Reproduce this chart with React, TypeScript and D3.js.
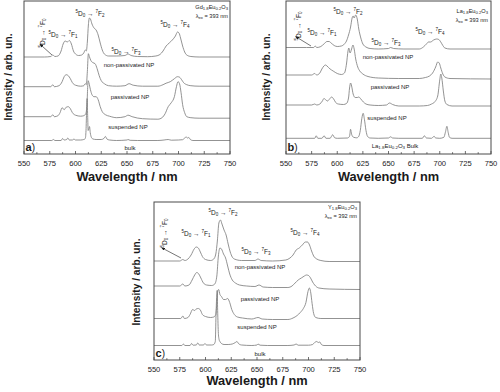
import React from "react";
import * as d3 from "d3";

type Pt = [number, number];

const FONT = "'Liberation Sans', Arial, Helvetica, sans-serif";

const WL_TICKS = [550, 575, 600, 625, 650, 675, 700, 725, 750];
const WL_MINOR = [562.5, 587.5, 612.5, 637.5, 662.5, 687.5, 712.5, 737.5];

const SAMPLE_LABELS = ["non-passivated NP", "passivated NP", "suspended NP"];

// ---------- Panel a : Gd1.8Eu0.2O3 ----------
const aOffsets = [97, 67.3, 37.3, 13.5];
const aNonPassivated: Pt[] = [
  [550, 0], [570, 0], [576, 0.5], [578, 2], [580, 0.5], [583, 1], [586, 6], [588, 13], [590, 16], [592, 15],
  [594, 16.5], [596, 13], [598, 6], [600, 3], [603, 1.5], [606, 2], [608, 4], [609.5, 7], [610.5, 6], [611.5, 15],
  [612.5, 32], [613.5, 39], [614.5, 38], [616, 33], [618, 29], [620, 27], [622, 22], [624, 14], [626, 7], [628, 3],
  [632, 1], [640, 1], [648, 1.5], [651, 3], [654, 1.5], [660, 0.5], [670, 0.3], [678, 1], [682, 2.5], [685, 6],
  [688, 11], [691, 14], [694, 17], [697, 21], [699, 25], [700.5, 24], [702, 19], [704, 11], [706, 5], [708, 2],
  [712, 0.5], [720, 0], [750, 0],
];
const aPassivated: Pt[] = [
  [550, 0], [576, 0], [578, 2], [579.5, 0], [584, 1], [587, 5], [589, 10], [591, 12], [593, 11], [595, 8],
  [597, 4], [600, 1.5], [605, 0.5], [608, 1], [609.5, 3], [610.5, 2], [611.5, 15], [612.5, 33], [613.5, 30],
  [615, 26], [617, 24], [619, 23], [621, 18], [623, 11], [625, 6], [628, 3], [632, 1], [640, 0.5], [648, 1],
  [652, 3], [656, 1.5], [665, 0.5], [680, 0.5], [685, 2], [688, 3.5], [692, 5], [696, 8], [699, 10], [701, 9.5],
  [703, 7], [705, 4], [708, 2], [712, 1], [720, 0.5], [750, 0.5],
];
const aSuspended: Pt[] = [
  [550, 0], [576, 0], [578, 2], [579.5, 0], [583, 1], [585, 4], [587, 9], [589, 7], [591, 9.5], [593, 10],
  [595, 8], [597, 4], [600, 1.5], [605, 0.5], [608, 1], [610, 3], [611, 10], [612.3, 36], [613, 34], [614.5, 27],
  [616, 22], [618, 20], [620, 20], [622, 17], [624, 10], [626, 5], [629, 2], [633, 0.5], [640, -1], [648, 0],
  [651, 1.5], [655, 0], [665, -2], [680, -2.5], [684, -1], [687, 3], [690, 10], [693, 14], [696, 20], [698, 30],
  [699.5, 35], [701, 33], [702.5, 24], [704, 12], [706, 4], [708, 0], [712, -1], [720, -1.5], [750, -1.5],
];
const aBulk: Pt[] = [
  [550, 0], [577, 0], [578.5, 1], [580, 0], [586, 0], [587.5, 2], [589, 0.5], [591.5, 1], [592.5, 2.5], [594, 0.5],
  [597, 0.5], [598.5, 1.5], [600, 0.5], [605, 0.5], [608, 1], [609.5, 2], [610.2, 10], [610.8, 30], [611.3, 42],
  [611.8, 25], [612.3, 10], [613, 12], [613.6, 14], [614.3, 8], [615.5, 3], [617, 1.5], [620, 1], [625, 1],
  [627.5, 2], [629, 4], [630.5, 1.5], [633, 0.5], [640, 0], [650, 0.5], [651, 1], [653, 0.2], [660, 0], [680, 0],
  [686, 0.5], [690, 1], [693, 0.3], [700, 0.5], [704, 0.8], [706, 2.5], [707.5, 3.5], [708.7, 2.5], [710, 3],
  [711.5, 1], [714, 0], [750, 0],
];

// ---------- Panel b : La1.8Eu0.2O3 ----------
const bOffsets = [105, 75, 48, 15.7];
const bNonPassivated: Pt[] = [
  [550, 1.5], [570, 1.5], [577, 1.5], [578.5, 3], [580, 1.5], [584, 2.5], [587, 5], [590, 7.5], [592, 7.5],
  [594, 6], [597, 3.5], [600, 2.5], [604, 3], [607, 5], [609, 8], [611, 14], [613, 22], [614.5, 31], [615.5, 33],
  [616.5, 31], [618, 34], [619.5, 30], [621, 20], [623, 11], [625, 5], [628, 2], [632, 0.5], [640, 0], [650, 0.5],
  [652, 1.5], [655, 0.5], [665, 0], [680, 0], [684, 2], [687, 5], [689, 7], [691, 7], [694, 9], [697, 10],
  [699, 9.5], [701, 7], [703, 3.5], [705, 1], [710, 0], [750, 0],
];
const bPassivated: Pt[] = [
  [550, 4], [575, 4], [578, 5.5], [580, 4], [583, 6], [585, 10], [587, 13], [588.5, 14], [590, 13], [593, 10],
  [596, 8], [600, 5.5], [604, 4.5], [607, 6], [609, 15], [610.5, 28], [611.3, 31], [612.5, 26], [614, 30],
  [615.3, 34], [616.5, 30], [618, 20], [620, 12], [622, 8], [625, 5], [630, 2.5], [640, 1], [660, 0.5], [680, 0.5],
  [686, 1.5], [690, 3], [693, 6], [696, 12], [698, 17], [699.5, 16], [701, 11], [703, 5], [705, 2], [710, 0.5],
  [750, 0],
];
const bSuspended: Pt[] = [
  [550, 1], [575, 1], [578, 2], [580, 1], [583, 2], [585.5, 5], [587, 7.5], [589, 6], [590.5, 5], [592.5, 7],
  [594.5, 9], [596.5, 7], [598.5, 3.5], [601, 2], [606, 1.5], [609, 2.5], [611, 8], [612, 18], [613, 23], [614, 20],
  [615.5, 12], [617.5, 8.5], [619.5, 8.5], [621, 9], [623, 7], [625.5, 4], [628, 2], [632, 1], [640, 0.5], [648, 1],
  [651, 3], [654, 1.5], [660, 0], [680, 0], [688, 0.5], [692, 2], [695, 4], [698, 10], [700, 26], [701, 32],
  [702, 28], [703.5, 15], [705, 5], [707, 1.5], [712, 0], [750, 0],
];
const bBulk: Pt[] = [
  [550, 0], [578, 0], [579.5, 2.5], [581, 0], [585, 0], [587.2, 2.5], [589, 0], [593, 0], [595.5, 3.5],
  [597.5, 0.5], [600, 0], [610, 0.3], [612, 2], [613, 9], [614, 4], [616, 1], [619, 0.5], [621, 2], [622.5, 8],
  [624, 20], [625.3, 25], [626.5, 19], [628, 8], [629.5, 2], [632, 0.3], [640, 0], [650, 0.3], [652, 1.5],
  [654, 0.3], [660, 0], [683, 0], [685, 2.5], [687, 0.3], [692, 0], [694.5, 2], [696, 0.3], [700, 0], [704, 1],
  [705.5, 6], [707, 12], [708.2, 6], [709.5, 1], [712, 0], [750, 0],
];

// ---------- Panel c : Y1.8Eu0.2O3 ----------
const cOffsets = [99, 74, 41.5, 14.5];
const cNonPassivated: Pt[] = [
  [550, 0], [575, 0], [578, 1.5], [580, 0.5], [583, 2], [586, 6], [589, 12], [591, 14], [593, 13], [595, 9],
  [597, 4.5], [600, 1.5], [605, 0.5], [608, 2], [610, 7], [611.5, 20], [613, 38], [614.5, 41], [616, 37],
  [618, 31], [620, 26], [622, 17], [624, 9], [626, 4], [628, 2], [635, 0.5], [648, 0.5], [651, 2], [654, 0.5],
  [665, 0], [678, 1], [682, 3], [685, 6], [688, 11], [691, 13], [694, 16], [697, 19], [699, 19], [701, 16],
  [703, 10], [705, 5], [708, 2], [712, 0.5], [720, -0.5], [750, -0.5],
];
const cPassivated: Pt[] = [
  [550, 0], [575, 0], [578, 2], [580, 0], [584, 1], [587, 6], [589.5, 11], [591.5, 13.5], [593.5, 12],
  [595.5, 8], [598, 3], [601, 1], [606, 0.5], [609, 2], [611, 10], [612.5, 30], [614, 38], [615.5, 37],
  [617.5, 32], [619.5, 28], [621.5, 20], [623.5, 12], [626, 6], [629, 3], [633, 1], [640, 0], [648, -0.5],
  [652, 1], [656, -1], [665, -1.5], [680, -1.5], [684, 0], [687, 3], [690, 6], [693, 8], [696, 10], [698, 11],
  [700, 10.5], [702, 8], [704, 4], [706, 1], [710, -2], [720, -3], [750, -3.5],
];
const cSuspended: Pt[] = [
  [550, 0], [576, 0], [578, 2.5], [579.5, 0], [583, 1], [585, 4], [587.5, 9], [589.5, 8], [591, 9.5], [593, 10],
  [595, 8.5], [597, 4], [600, 2], [605, 1], [608, 1.5], [610, 4], [611, 15], [612, 28], [612.8, 29], [614, 24],
  [615.5, 22], [617.5, 19], [619.5, 19], [621.5, 20], [623.5, 16], [625.5, 9], [628, 4], [631, 1.5], [636, 0.5],
  [645, -0.5], [651, 1], [655, -0.5], [665, -1], [680, -1], [685, 0.5], [689, 3], [692, 6], [695, 10],
  [697.5, 16], [699.5, 27], [700.8, 30.5], [702, 27], [703.5, 15], [705, 5], [707, 1], [712, 0], [750, 0],
];
const cBulk: Pt[] = [
  [550, 0], [577, 0], [578.5, 1.5], [580, 0], [585, 0], [586.5, 2], [588, 0.3], [591, 0.5], [592.5, 2.5],
  [594, 0.5], [598, 0.5], [599.5, 2], [601, 0.5], [606, 0.5], [608, 1], [609.5, 4], [610.2, 30], [610.8, 48],
  [611.3, 55], [611.8, 35], [612.5, 12], [613.2, 6], [614, 4], [615.5, 2], [618, 1], [622, 1], [626, 1.5],
  [629, 3], [630.5, 4], [632, 2], [635, 0.5], [645, 0], [650, 0.5], [651, 1.5], [653, 0.3], [660, 0], [680, 0],
  [686, 0.5], [688, 1.5], [690, 0.3], [700, 0.3], [704, 1], [706, 3], [708, 4], [709.5, 3], [711, 3.5],
  [712.5, 1], [715, 0], [750, 0],
];

// ---------- helpers ----------
const TXT = "#1a1a1a";
const LINE = "#808080";
const FRAME = "#4a4a4a";

function Transition({ x, y, n, anchor = "middle", rotate = 0 }: { x: number; y: number; n: string; anchor?: string; rotate?: number }) {
  const big = 6.5;
  const small = 4.5;
  return (
    <text
      x={0}
      y={0}
      transform={`translate(${x},${y}) rotate(${rotate})`}
      fontSize={big}
      textAnchor={anchor as any}
      fill={TXT}
      fontFamily={FONT}
    >
      <tspan fontSize={small} dy={-2.6}>5</tspan>
      <tspan dy={2.6}>D</tspan>
      <tspan fontSize={small} dy={1.4}>0</tspan>
      <tspan dy={-1.4}>{" \u2192 "}</tspan>
      <tspan fontSize={small} dy={-2.6}>7</tspan>
      <tspan dy={2.6}>F</tspan>
      <tspan fontSize={small} dy={1.4}>{n}</tspan>
    </text>
  );
}

function Compound({ x, y, parts }: { x: number; y: number; parts: [string, string][] }) {
  return (
    <text x={x} y={y} fontSize={5.6} textAnchor="end" fill={TXT} fontFamily={FONT}>
      {parts.map(([main, sub], i) => (
        <React.Fragment key={i}>
          <tspan dy={i === 0 ? 0 : -1.3}>{main}</tspan>
          <tspan fontSize={4.2} dy={1.3}>{sub}</tspan>
        </React.Fragment>
      ))}
    </text>
  );
}

function Lambda({ x, y, nm }: { x: number; y: number; nm: string }) {
  return (
    <text x={x} y={y} fontSize={5.6} textAnchor="end" fill={TXT} fontFamily={FONT}>
      <tspan>{"\u03bb"}</tspan>
      <tspan fontSize={4.2} dy={1.3}>ex</tspan>
      <tspan dy={-1.3}>{` = ${nm} nm`}</tspan>
    </text>
  );
}

type PanelProps = {
  left: number; right: number; top: number; bottom: number;
  series: Pt[][]; offsets: number[];
  letter: string;
  labels: { text: any; x: number; y: number }[];
  trans: { n: string; x: number; y: number }[];
  f0: { x: number; y: number; ax1: number; ay1: number; ax2: number; ay2: number };
  compound: [string, string][]; lambda: string; cx: number; cy: number;
  yTitle: { x: number; y: number };
  xTitleY: number; tickY: number;
};

function Panel(p: PanelProps) {
  const x = d3.scaleLinear().domain([550, 750]).range([p.left, p.right]);
  const h = p.bottom - p.top;
  const y = d3.scaleLinear().domain([0, h]).range([p.bottom, p.top]);
  const mid = (p.left + p.right) / 2;
  return (
    <g>
      {p.series.map((s, i) => {
        const line = d3
          .line<Pt>()
          .x((d) => x(d[0]))
          .y((d) => y(d[1] + p.offsets[i]))
          .curve(d3.curveMonotoneX);
        return <path key={i} d={line(s) || ""} fill="none" stroke={LINE} strokeWidth={0.85} />;
      })}
      <rect x={p.left} y={p.top} width={p.right - p.left} height={h} fill="none" stroke={FRAME} strokeWidth={1} />
      {WL_TICKS.map((t) => (
        <g key={t}>
          <line x1={x(t)} x2={x(t)} y1={p.bottom} y2={p.bottom - 3} stroke={FRAME} strokeWidth={0.8} />
          <text x={x(t)} y={p.tickY} fontSize={7.6} textAnchor="middle" fill={TXT} fontFamily={FONT}>
            {t}
          </text>
        </g>
      ))}
      {WL_MINOR.map((t) => (
        <line key={t} x1={x(t)} x2={x(t)} y1={p.bottom} y2={p.bottom - 1.8} stroke={FRAME} strokeWidth={0.8} />
      ))}
      <text x={mid} y={p.xTitleY} fontSize={12.8} fontWeight="bold" textAnchor="middle" fill={TXT} fontFamily={FONT}>
        Wavelength / nm
      </text>
      <text
        transform={`translate(${p.yTitle.x},${p.yTitle.y}) rotate(-90)`}
        fontSize={10.2}
        fontWeight="bold"
        textAnchor="middle"
        fill={TXT}
        fontFamily={FONT}
      >
        Intensity / arb. un.
      </text>
      {p.labels.map((l, i) => (
        <text key={i} x={l.x} y={l.y} fontSize={6} textAnchor="middle" fill={TXT} fontFamily={FONT}>
          {l.text}
        </text>
      ))}
      {p.trans.map((t, i) => (
        <Transition key={i} x={t.x} y={t.y} n={t.n} />
      ))}
      <Transition x={p.f0.x} y={p.f0.y} n="0" rotate={-90} />
      <line x1={p.f0.ax1} y1={p.f0.ay1} x2={p.f0.ax2} y2={p.f0.ay2} stroke={TXT} strokeWidth={0.6} markerStart="url(#arrowHead)" />
      <Compound x={p.cx} y={p.cy} parts={p.compound} />
      <Lambda x={p.cx} y={p.cy + 9} nm={p.lambda} />
      <text x={p.left + 1.5} y={p.bottom - 3} fontSize={11} fill={TXT} fontFamily={FONT}>
        <tspan fontWeight="bold">{p.letter}</tspan>
        <tspan fontSize={10}>)</tspan>
      </text>
    </g>
  );
}

export default function App() {
  return (
    <svg width={500} height={392} style={{ position: "absolute", left: 0, top: 0, background: "#fff" }}>
      <defs>
        <marker id="arrowHead" markerWidth="4" markerHeight="3" refX="0.5" refY="1.5" orient="auto-start-reverse" markerUnits="userSpaceOnUse">
          <path d="M0,0 L4,1.5 L0,3 Z" fill={TXT} />
        </marker>
      </defs>
      <rect width={500} height={392} fill="#fff" />
      <Panel
        left={24} right={230} top={1} bottom={154}
        series={[aNonPassivated, aPassivated, aSuspended, aBulk]} offsets={aOffsets}
        letter="a"
        labels={[
          { text: SAMPLE_LABELS[0], x: 129, y: 67 },
          { text: SAMPLE_LABELS[1], x: 130, y: 99 },
          { text: SAMPLE_LABELS[2], x: 128, y: 129 },
          { text: "bulk", x: 130, y: 150 },
        ]}
        trans={[
          { n: "2", x: 90, y: 16 },
          { n: "1", x: 63, y: 37 },
          { n: "3", x: 126, y: 54 },
          { n: "4", x: 175, y: 27 },
        ]}
        f0={{ x: 45, y: 33, ax1: 42, ay1: 46, ax2: 52, ay2: 55 }}
        compound={[["Gd", "1.8"], ["Eu", "0.2"], ["O", "3"]]} lambda="393" cx={228} cy={9}
        yTitle={{ x: 12, y: 77 }}
        xTitleY={181} tickY={166}
      />
      <Panel
        left={286} right={491} top={1} bottom={154}
        series={[bNonPassivated, bPassivated, bSuspended, bBulk]} offsets={bOffsets}
        letter="b"
        labels={[
          { text: SAMPLE_LABELS[0], x: 388, y: 59 },
          { text: SAMPLE_LABELS[1], x: 390, y: 89 },
          { text: SAMPLE_LABELS[2], x: 387, y: 120 },
          {
            text: (
              <>
                <tspan>La</tspan>
                <tspan fontSize={4.4} dy={1.3}>1.8</tspan>
                <tspan dy={-1.3}>Eu</tspan>
                <tspan fontSize={4.4} dy={1.3}>0.2</tspan>
                <tspan dy={-1.3}>O</tspan>
                <tspan fontSize={4.4} dy={1.3}>3</tspan>
                <tspan dy={-1.3}> Bulk</tspan>
              </>
            ),
            x: 395, y: 148,
          },
        ]}
        trans={[
          { n: "2", x: 348, y: 14 },
          { n: "1", x: 322, y: 35 },
          { n: "3", x: 386, y: 45 },
          { n: "4", x: 430, y: 34 },
        ]}
        f0={{ x: 301, y: 26, ax1: 298, ay1: 38, ax2: 311, ay2: 46 }}
        compound={[["La", "1.8"], ["Eu", "0.2"], ["O", "3"]]} lambda="393" cx={488} cy={13}
        yTitle={{ x: 270, y: 77 }}
        xTitleY={181} tickY={166}
      />
      <Panel
        left={154} right={360} top={202} bottom={360}
        series={[cNonPassivated, cPassivated, cSuspended, cBulk]} offsets={cOffsets}
        letter="c"
        labels={[
          { text: SAMPLE_LABELS[0], x: 260, y: 269 },
          { text: SAMPLE_LABELS[1], x: 260, y: 301 },
          { text: SAMPLE_LABELS[2], x: 257, y: 329 },
          { text: "bulk", x: 260, y: 356 },
        ]}
        trans={[
          { n: "2", x: 223, y: 215 },
          { n: "1", x: 196, y: 236 },
          { n: "3", x: 256, y: 254 },
          { n: "4", x: 305, y: 235 },
        ]}
        f0={{ x: 167, y: 233, ax1: 164, ay1: 249, ax2: 181, ay2: 258 }}
        compound={[["Y", "1.8"], ["Eu", "0.2"], ["O", "3"]]} lambda="392" cx={357} cy={209}
        yTitle={{ x: 140, y: 282 }}
        xTitleY={385} tickY={372}
      />
    </svg>
  );
}
